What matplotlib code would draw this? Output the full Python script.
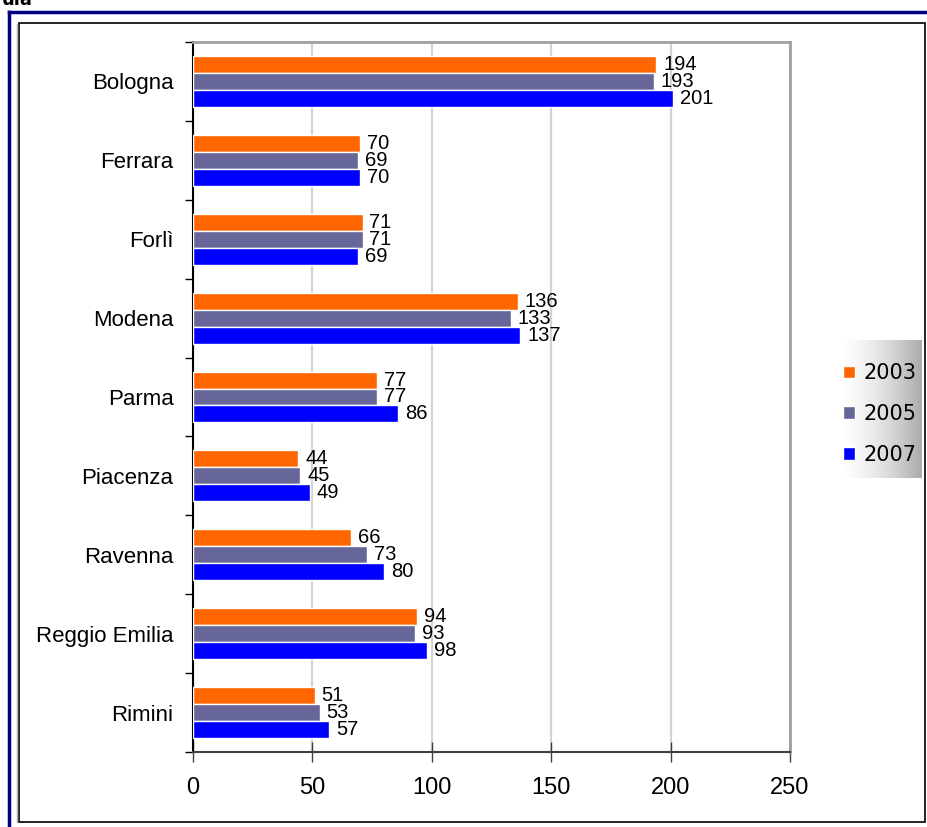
import numpy as np
import matplotlib
matplotlib.use('Agg')
import matplotlib.pyplot as plt
from matplotlib.patches import Rectangle
from matplotlib.lines import Line2D

province = ['Bologna', 'Ferrara', 'Forlì', 'Modena', 'Parma', 'Piacenza',
            'Ravenna', 'Reggio Emilia', 'Rimini']
anni = ['2003', '2005', '2007']
v2003 = [194, 70, 71, 136, 77, 44, 66, 94, 51]
v2005 = [193, 69, 71, 133, 77, 45, 73, 93, 53]
v2007 = [201, 70, 69, 137, 86, 49, 80, 98, 57]
colori = ['#FF6600', '#666699', '#0000FF']

plt.rcParams['font.family'] = 'DejaVu Sans'
stretto = 'Liberation Sans'

fig = plt.figure(figsize=(9.28, 8.27), dpi=100)
W, H = 928, 827

def fx(px):
    return px / W

def fy(py):
    return 1 - py / H

# cornice esterna blu e riquadro nero
fig.add_artist(Line2D([fx(9), fx(9)], [0, fy(12)], color='#000080', lw=2.5))
fig.add_artist(Line2D([fx(9), 1], [fy(12), fy(12)], color='#000080', lw=2.5))
fig.add_artist(Line2D([fx(17), fx(17)], [fy(822), fy(24)], color='#b0b0b0', lw=1))
fig.add_artist(Rectangle((fx(19), fy(822)), fx(925) - fx(19), fy(23) - fy(822),
                         fill=False, ec='black', lw=1.2, transform=fig.transFigure))
fig.text(0.002, fy(5), 'ula', fontsize=13, fontweight='bold', va='baseline')

ax = fig.add_axes([fx(193), fy(752), fx(790) - fx(193), fy(42) - fy(752)])

y = np.arange(len(province))
h = 0.215
serie = [v2003, v2005, v2007]
bars = []
for i, (vals, col) in enumerate(zip(serie, colori)):
    b = ax.barh(y + (i - 1) * h, vals, height=h, color=col, edgecolor='white',
                linewidth=1, label=anni[i], zorder=3)
    bars.append(b)
    for yy, v in zip(y + (i - 1) * h, vals):
        ax.annotate(str(v), (v, yy), xytext=(5, 0), textcoords='offset points',
                    va='center', ha='left', fontsize=14.5, family=stretto)

ax.set_xlim(0, 250)
ax.set_ylim(len(province) - 0.5, -0.5)
ax.set_xticks([0, 50, 100, 150, 200, 250])
ax.set_yticks(y)
ax.set_yticklabels(province, family=stretto)
ax.set_yticks(np.arange(len(province) + 1) - 0.5, minor=True)
ax.tick_params(axis='y', which='major', length=0, pad=14, labelsize=16)
ax.tick_params(axis='y', which='minor', length=6, width=1, color='black')
ax.tick_params(axis='x', direction='inout', length=14, width=1, color='#404040',
               pad=11, labelsize=17)
for lab in ax.get_xticklabels():
    lab.set_family(stretto)
ax.grid(axis='x', color='#d4d4d4', lw=1.6, zorder=0)
ax.set_axisbelow(True)

ax.spines['left'].set_color('black')
ax.spines['left'].set_linewidth(1.5)
ax.spines['bottom'].set_color('#404040')
ax.spines['bottom'].set_linewidth(1.5)
for s in ['top', 'right']:
    ax.spines[s].set_color('#a0a0a0')
    ax.spines[s].set_linewidth(2)

# legenda con sfondo sfumato
lax = fig.add_axes([fx(838), fy(478), fx(922) - fx(838), fy(340) - fy(478)])
t = np.linspace(0, 1, 256)
grad = 1 - 0.33 * t ** 1.6
lax.imshow(grad[np.newaxis, :], aspect='auto', cmap='gray', vmin=0, vmax=1,
           extent=[0, 1, 0, 1])
lax.axis('off')

fig.legend(handles=bars, labels=anni, loc='center', frameon=False,
           bbox_to_anchor=(fx(880), fy(414)), fontsize=15, handlelength=0.55,
           handleheight=0.55, handletextpad=0.45, labelspacing=1.0)

fig.savefig('out.png', dpi=100)
